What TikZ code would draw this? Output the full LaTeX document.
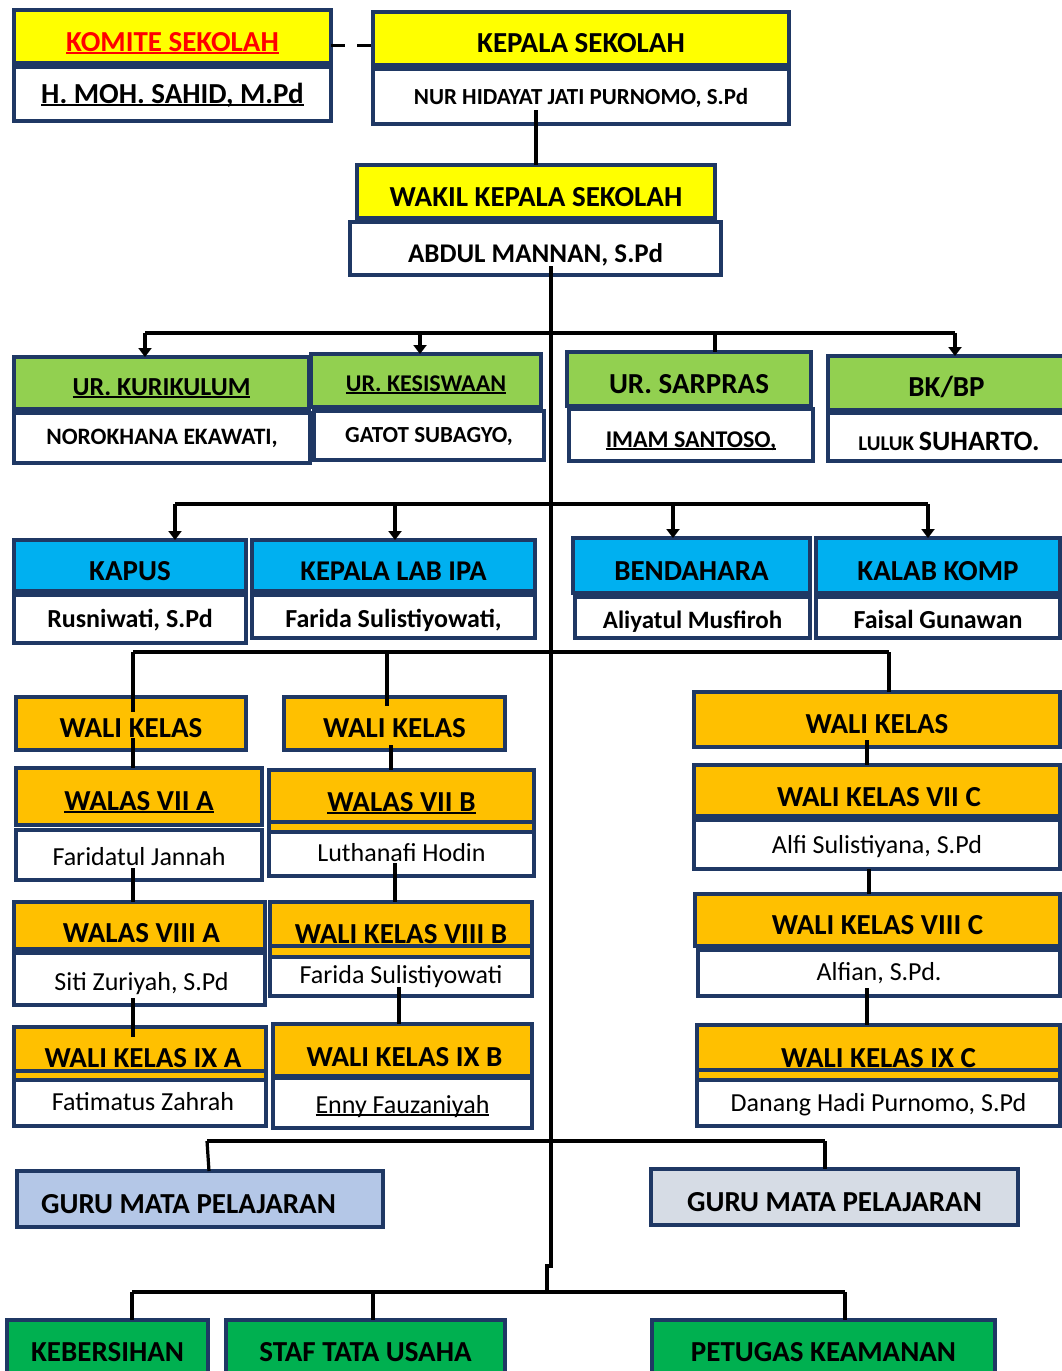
\documentclass[tikz,border=0pt]{standalone}
\usepackage{fontspec}
\setmainfont{Carlito}
\usetikzlibrary{arrows.meta,calc}
\definecolor{navy}{HTML}{1F3864}
\definecolor{yel}{HTML}{FFFF00}
\definecolor{grn}{HTML}{92D050}
\definecolor{blu}{HTML}{00B0F0}
\definecolor{org}{HTML}{FFC000}
\definecolor{lb}{HTML}{B4C7E7}
\definecolor{lg}{HTML}{D6DCE5}
\definecolor{dg}{HTML}{00B050}
\definecolor{rd}{HTML}{FF0000}
\newcommand\fz[1]{\fontsize{#1}{#1}\selectfont}
\newcommand\Hd{\fz{29}\bfseries}
\newcommand\Nm{\fz{26}}
\newcommand\ul[1]{\setbox0=\hbox{#1}\rlap{\rule[-0.11em]{\wd0}{0.075em}}\box0}
\tikzset{
  box/.style={rectangle,draw=navy,line width=4.5pt,inner sep=0pt,outer sep=0pt},
  txt/.style={anchor=base,inner sep=0pt,outer sep=0pt},
  con/.style={draw=black,line width=3.2pt},
  arr/.style={con,-{Triangle[width=13pt,length=9pt]}},
  sepl/.style={draw=navy,line width=3.5pt},
  dsh/.style={con,dash pattern=on 14pt off 12pt}
}
\newcommand\bx[9][0]{%
  \node[box,fill=#7,minimum width={#5-#3},minimum height={#6-#4}] (#2) at ({(#3+#5)/2},{(#4+#6)/2}) {};
  \node[txt] (#2t) at ({(#3+#5)/2+#1},#8) {#9};}
\begin{document}
\begin{tikzpicture}[x=1pt,y=-1pt]
\useasboundingbox (0,0) rectangle (1062,1371);
\fill[white] (0,0) rectangle (1062,1371);
% row 1
\bx{kom}{14}{10}{331}{63}{yel}{51}{\Hd\color{rd}\ul{KOMITE SEKOLAH}}
\bx{komn}{14}{67}{331}{121}{white}{103}{\Hd\ul{H. MOH. SAHID, M.Pd}}
\bx{kep}{373}{12}{789}{65}{yel}{52}{\Hd KEPALA SEKOLAH}
\bx{kepn}{373}{69}{789}{124}{white}{104}{\fz{23}\bfseries NUR HIDAYAT JATI PURNOMO, S.Pd}
\bx{wak}{357}{165}{715}{218}{yel}{206}{\Hd WAKIL KEPALA SEKOLAH}
\bx{wakn}{350}{222}{721}{275}{white}{262}{\fz{27}\bfseries ABDUL MANNAN, S.Pd}
% row 2
\bx{kur}{14}{357}{309}{409}{grn}{395}{\fz{26}\bfseries\ul{UR. KURIKULUM}}
\bx{kurn}{14}{413}{310}{463}{white}{444}{\fz{23.5}\bfseries NOROKHANA EKAWATI,}
\bx{kes}{311}{354}{541}{407}{grn}{391}{\fz{24}\bfseries\ul{UR. KESISWAAN}}
\bx{kesn}{314}{411}{544}{460}{white}{442}{\fz{23}\bfseries GATOT SUBAGYO,}
\bx{sar}{567}{352}{811}{406}{grn}{393}{\Hd UR. SARPRAS}
\bx{sarn}{569}{409}{813}{461}{white}{447}{\fz{24}\bfseries\ul{IMAM SANTOSO,}}
\bx[-2.5]{bk}{828}{356}{1070}{410}{grn}{396}{\Hd BK/BP}
\bx{bkn}{828}{413}{1070}{461}{white}{450}{{\fz{21}\bfseries LULUK }{\fz{28}\bfseries SUHARTO.}}
% row 3
\bx{kap}{14}{540}{246}{591}{blu}{580}{\Hd KAPUS}
\bx{kapn}{14}{595}{246}{643}{white}{627}{\fz{26}\bfseries Rusniwati, S.Pd}
\bx{lab}{252}{540}{535}{591}{blu}{580}{\fz{28.6}\bfseries KEPALA LAB IPA}
\bx{labn}{252}{595}{535}{638}{white}{627}{\fz{26}\bfseries Farida Sulistiyowati,}
\bx{ben}{573}{538}{810}{593}{blu}{580}{\Hd BENDAHARA}
\bx{benn}{575}{597}{810}{638}{white}{628}{\fz{25}\bfseries Aliyatul Musfiroh}
\bx{kal}{816}{538}{1060}{593}{blu}{580}{\Hd KALAB KOMP}
\bx{kaln}{816}{597}{1060}{638}{white}{628}{\fz{26}\bfseries Faisal Gunawan}
% wali kelas
\bx{wa}{16}{697}{246}{750}{org}{737}{\Hd WALI KELAS}
\bx{wb}{284}{697}{505}{750}{org}{737}{\Hd WALI KELAS}
\bx{wr}{694}{692}{1060}{747}{org}{733}{\Hd WALI KELAS}
\bx{v7a}{16}{768}{262}{825}{org}{810}{\Hd\ul{WALAS VII A}}
\bx{v7an}{16}{830}{262}{880}{white}{865}{\Nm Faridatul Jannah}
\bx{v7b}{269}{770}{534}{832}{org}{811}{\Hd\ul{WALAS VII B}}
\draw[sepl] (v7b.west|-0,822) -- (v7b.east|-0,822);
\bx{v7bn}{269}{832}{534}{876}{white}{861}{\Nm Luthanafi Hodin}
\bx[2]{v8a}{14}{902}{265}{949}{org}{942}{\Hd WALAS VIII A}
\bx[2]{v8an}{14}{953}{265}{1005}{white}{990}{\Nm Siti Zuriyah, S.Pd}
\bx{v8b}{270}{902}{532}{957}{org}{943}{\Hd WALI KELAS VIII B}
\draw[sepl] (v8b.west|-0,946) -- (v8b.east|-0,946);
\bx{v8bn}{270}{957}{532}{996}{white}{983}{\Nm Farida Sulistiyowati}
\bx[3]{v9a}{14}{1027}{266}{1080}{org}{1067}{\Hd WALI KELAS IX A}
\draw[sepl] (v9a.west|-0,1071) -- (v9a.east|-0,1071);
\bx[3]{v9an}{14}{1080}{266}{1126}{white}{1110}{\Nm Fatimatus Zahrah}
\bx[2]{v9b}{273}{1024}{532}{1076}{org}{1066}{\Hd WALI KELAS IX B}
\bx{v9bn}{273}{1078}{532}{1128}{white}{1113}{\Nm\ul{Enny Fauzaniyah}}
\bx[2]{v7c}{694}{765}{1060}{816}{org}{806}{\Hd WALI KELAS VII C}
\bx{v7cn}{694}{820}{1060}{869}{white}{853}{\Nm Alfi Sulistiyana, S.Pd}
\bx{v8c}{695}{894}{1060}{946}{org}{934}{\Hd WALI KELAS VIII C}
\bx{v8cn}{698}{950}{1060}{996}{white}{980}{\Nm Alfian, S.Pd.}
\bx{v9c}{697}{1025}{1060}{1080}{org}{1067}{\Hd WALI KELAS IX C}
\draw[sepl] (v9c.west|-0,1070) -- (v9c.east|-0,1070);
\bx{v9cn}{697}{1080}{1060}{1126}{white}{1111}{\Nm Danang Hadi Purnomo, S.Pd}
% guru & staff
\bx[-11.5]{gl}{17}{1171}{383}{1227}{lb}{1213}{\Hd GURU MATA PELAJARAN}
\bx{gr}{651}{1169}{1018}{1225}{lg}{1211}{\Hd GURU MATA PELAJARAN}
\bx{keb}{7}{1320}{208}{1385}{dg}{1361}{\Hd KEBERSIHAN}
\bx{stu}{226}{1320}{505}{1385}{dg}{1361}{\Hd STAF TATA USAHA}
\bx{pet}{652}{1320}{995}{1385}{dg}{1361}{\Hd PETUGAS KEAMANAN}
% connectors
\coordinate (d0) at ($(kom.east)+(0,9)$);
\draw[dsh] (d0) -- (d0 -| kep.west);
\draw[con] (wak.north) -- ($(wak.north)+(0,-55)$);
\coordinate (tA) at (551,266);
\coordinate (tB) at (551,1266);
\coordinate (tC) at (547,1266);
\coordinate (tD) at (547,1292);
\draw[con] (tA) -- (tB) -- (tC) -- (tD);
% bus 2
\coordinate (b1) at (145,333);
\coordinate (b2) at (420,333);
\coordinate (b3) at (715,333);
\coordinate (b4) at (955,333);
\draw[con] (b1) -- (b4);
\draw[arr] (b1) -- (b1 |- kur.north);
\draw[arr] (b2) -- (b2 |- kes.north);
\draw[con] (b3) -- (b3 |- sar.north);
\draw[arr] (b4) -- (b4 |- bk.north);
% bus 3
\coordinate (c1) at (175,504);
\coordinate (c2) at (395,504);
\coordinate (c3) at (673,504);
\coordinate (c4) at (928,504);
\draw[con] (c1) -- (c4);
\draw[arr] (c1) -- (c1 |- kap.north);
\draw[arr] (c2) -- (c2 |- lab.north);
\draw[arr] (c3) -- (c3 |- ben.north);
\draw[arr] (c4) -- (c4 |- kal.north);
% bus 4
\coordinate (e1) at (133,652);
\coordinate (e2) at (387,652);
\coordinate (e3) at (889,652);
\draw[con] (e1) -- (e3);
\draw[con] (e1) -- ($(e1 |- wa.north)+(0,15)$);
\draw[con] (e2) -- ($(e2 |- wb.north)+(0,9)$);
\draw[con] (e3) -- (e3 |- wr.north);
% chains
\draw[con] ($(wa.south-|133,0)+(0,-12)$) -- (v7a.north-|133,0);
\draw[con] ($(v7an.south-|133,0)+(0,-12)$) -- (v8a.north-|133,0);
\draw[con] ($(v8an.south-|133,0)+(0,-7)$) -- ($(v9a.north-|133,0)+(0,10)$);
\draw[con] ($(wb.south-|391,0)+(0,-5)$) -- (v7b.north-|391,0);
\draw[con] ($(v7bn.south-|395,0)+(0,-13)$) -- (v8b.north-|395,0);
\draw[con] ($(v8bn.south-|399,0)+(0,-9)$) -- (v9b.north-|399,0);
\draw[con] ($(wr.south-|867,0)+(0,-7)$) -- (v7c.north-|867,0);
\draw[con] (v7cn.south-|869,0) -- (v8c.north-|869,0);
\draw[con] ($(v8cn.south-|867,0)+(0,-8)$) -- (v9c.north-|867,0);
% bus 5
\coordinate (f1) at (207,1141);
\coordinate (f2) at (825,1141);
\draw[con] (f1) -- (f2);
\draw[con] (f1) -- (gl.north -| 209,0);
\draw[con] (f2) -- (f2 |- gr.north);
% bus 6
\coordinate (g1) at (132,1292);
\coordinate (g2) at (373,1292);
\coordinate (g3) at (845,1292);
\draw[con] (g1) -- (g3);
\draw[con] (g1) -- (g1 |- keb.north);
\draw[con] (g2) -- (g2 |- stu.north);
\draw[con] (g3) -- (g3 |- pet.north);
\end{tikzpicture}
\end{document}
